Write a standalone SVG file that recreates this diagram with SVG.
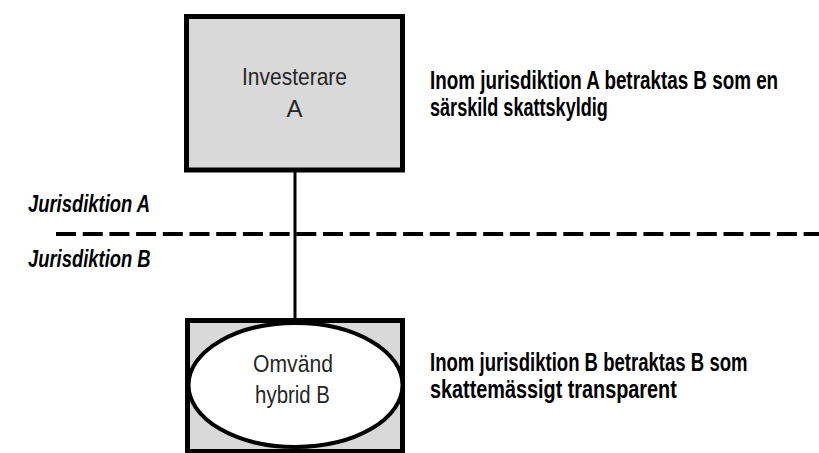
<svg xmlns="http://www.w3.org/2000/svg" width="819" height="453" viewBox="0 0 819 453">
<style>
.box{fill:#d9d9d9;stroke:#000;stroke-width:5}
.ell{fill:#fff;stroke:#000;stroke-width:4}
.node{font-family:"Liberation Sans",Arial,sans-serif;font-size:24px;fill:#262626;text-anchor:middle}
.note{font-family:"Liberation Sans",Arial,sans-serif;font-size:26px;font-weight:bold;fill:#000}
.jur{font-family:"Liberation Sans",Arial,sans-serif;font-size:23px;font-weight:bold;font-style:italic;fill:#000}
.conn{stroke:#000;stroke-width:3;fill:none}
.dash{stroke:#000;stroke-width:4;stroke-dasharray:20 6.7;fill:none}
</style>
<rect width="819" height="453" fill="#fff"/>
<g id="connectors">
<line class="conn" x1="295" y1="170" x2="295" y2="320"/>
</g>
<g id="boundary">
<line class="dash" x1="56" y1="234" x2="819" y2="234"/>
<text class="jur" transform="translate(28,212) scale(0.8,1)">Jurisdiktion A</text>
<text class="jur" transform="translate(28,267) scale(0.8,1)">Jurisdiktion B</text>
</g>
<g id="investerare">
<rect class="box" x="186.5" y="16.5" width="216" height="153.5"/>
<text class="node" transform="translate(294.5,85) scale(0.875,1)">Investerare</text>
<text class="node" x="294.5" y="117">A</text>
</g>
<g id="hybrid">
<rect class="box" x="187.5" y="320.5" width="215" height="131"/>
<ellipse class="ell" cx="295.5" cy="385" rx="107" ry="62"/>
<text class="node" transform="translate(293,372) scale(0.88,1)">Omvänd</text>
<text class="node" transform="translate(292.5,403) scale(0.85,1)">hybrid B</text>
</g>
<g id="note-a">
<text class="note" transform="translate(430,89) scale(0.725,1)">Inom jurisdiktion A betraktas B som en</text>
<text class="note" transform="translate(430,116) scale(0.696,1)">särskild skattskyldig</text>
</g>
<g id="note-b">
<text class="note" transform="translate(430,371) scale(0.714,1)">Inom jurisdiktion B betraktas B som</text>
<text class="note" transform="translate(430,398) scale(0.763,1)">skattemässigt transparent</text>
</g>
</svg>
